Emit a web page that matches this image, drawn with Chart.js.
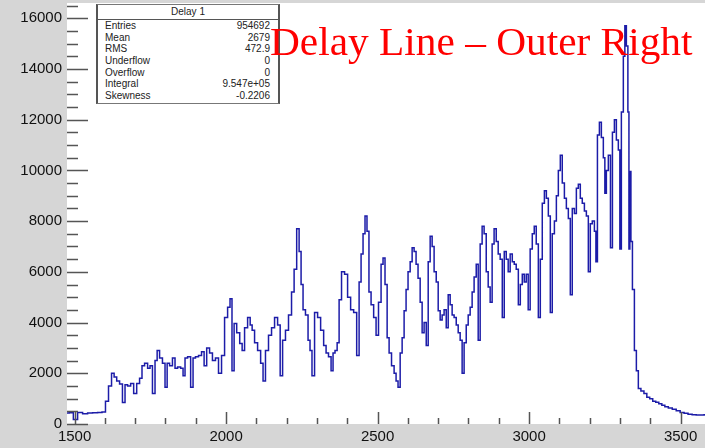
<!DOCTYPE html>
<html lang="en">
<head>
<meta charset="UTF-8">
<title>Delay Line - Outer Right</title>
<script src="https://cdn.jsdelivr.net/npm/chart.js"></script>
<style>
  body { margin: 0; background: #d6d6d6; overflow: hidden; width: 705px; height: 448px; position: relative; }
  #wrap { position: absolute; left: 0; top: 0; width: 720px; height: 448px; }
  #title { position: absolute; left: 270px; top: 22px; font-family: "Liberation Serif", serif; font-size: 39px; line-height: 1;
           color: #ff0000; white-space: nowrap; transform: scaleX(1.06); transform-origin: left top; }
  #stats { position: absolute; left: 96px; top: 4px; width: 180px; height: 98px; background: #fff;
           border: 1px solid #777; border-left: 2px solid #555; border-right: 2px solid #555;
           font-family: "Liberation Sans", sans-serif; font-size: 10px; color: #222; }
  #stats .head { text-align: center; height: 14px; line-height: 14px; border-bottom: 1px solid #555; }
  #stats .row { display: flex; justify-content: space-between; padding: 0 8px 0 7px; height: 11.7px; line-height: 11.7px; }
</style>
</head>
<body>
<div id="wrap"><canvas id="myChart" width="720" height="448"></canvas></div>
<div id="stats"></div>
<div id="title">Delay Line – Outer Right</div>

<script>
// bin centres and counts
const binX = [1475,1490,1502,1518,1535,1551,1568,1584,1597,1607,1617,1627,1634,1644,1653,1663,1670,1680,1690,1700,
  1710,1719,1726,1736,1746,1752,1762,1769,1776,1785,1795,1802,1809,1818,1828,1835,1845,1855,1861,1868,
  1878,1888,1894,1904,1914,1924,1931,1941,1950,1960,1970,1980,1990,2000,2010,2016,2023,2030,2040,2050,
  2056,2066,2076,2083,2089,2099,2109,2119,2125,2135,2145,2155,2165,2175,2182,2191,2201,2211,2221,2228,
  2238,2244,2251,2257,2267,2274,2280,2287,2297,2307,2317,2327,2333,2343,2350,2356,2363,2370,2376,2386,
  2396,2406,2416,2426,2436,2442,2449,2455,2462,2468,2475,2482,2492,2498,2508,2515,2521,2528,2535,2541,
  2551,2558,2564,2571,2578,2584,2591,2597,2604,2611,2617,2624,2630,2637,2644,2650,2657,2664,2670,2677,
  2683,2690,2697,2703,2710,2716,2723,2730,2736,2743,2749,2756,2763,2769,2776,2782,2789,2796,2802,2809,
  2815,2822,2829,2835,2842,2848,2855,2862,2868,2875,2881,2888,2895,2901,2908,2915,2921,2928,2934,2941,
  2948,2954,2961,2968,2974,2981,2987,2994,3000,3007,3014,3020,3027,3034,3040,3047,3054,3060,3067,3073,
  3080,3087,3093,3100,3106,3113,3120,3126,3133,3139,3146,3153,3159,3166,3172,3179,3186,3192,3199,3205,
  3212,3219,3222,3229,3235,3242,3248,3252,3258,3265,3272,3278,3285,3291,3298,3301,3308,3314,3318,3324,
  3328,3331,3334,3338,3344,3351,3357,3364,3374,3384,3393,3403,3413,3423,3433,3443,3453,3466,3479,3492,
  3505,3518,3531,3545,3558,3571,3584,3604,3630];

const counts = [430,440,180,450,400,430,440,450,470,900,1500,2000,1850,1700,1580,850,1550,1500,1600,1200,
  1600,1800,2300,2400,2200,2300,1200,2500,2900,2600,2400,1450,2400,2300,2600,2200,2250,2200,1900,2600,
  2650,1450,2600,2650,2700,2850,2300,3000,2800,2500,2600,2000,2700,4200,4600,4940,2100,3960,3600,3170,
  2900,3800,4200,3900,3700,3200,2900,2400,1700,2900,3500,3800,4200,3900,1900,3300,3700,4300,5200,6100,
  7700,6800,5500,4500,4300,3300,2900,1900,4400,4200,3700,3100,2800,2650,2100,2800,2900,3200,4900,6000,
  5900,5000,4500,4400,2700,5600,6700,7500,8200,7600,5200,4700,4200,3500,4800,6300,6550,5500,3400,2800,
  2300,2000,1700,1450,2800,3400,4470,5300,6000,6400,6950,6800,6300,5750,4800,3600,4000,3100,6400,7400,
  7000,6000,5600,4470,4100,4300,4500,3800,5100,4700,4300,4200,3900,3600,3300,2000,3200,3900,4300,4600,
  5200,5800,6300,3300,7100,7800,7500,6000,5400,4800,7100,7700,7200,6700,6500,4200,6800,6500,6000,6700,
  6400,6300,6100,4700,5500,5900,5600,5900,4500,6900,7500,7800,7100,4200,6500,8700,9200,8900,8200,4400,
  7500,8000,9000,10000,10600,9500,8900,8500,8100,5100,8500,8300,9300,9450,8900,8700,8400,8200,6000,7900,
  8000,7600,6400,11400,11900,11300,10500,9100,10000,10600,6950,11500,12000,11200,10800,6900,12300,14500,15700,14900,
  12300,6900,9960,7200,5300,2900,2100,1400,1300,1200,1050,1000,900,860,800,740,680,630,580,520,
  450,420,380,360,350,350,360,340,330];

const xTickLabels = [1500, 2000, 2500, 3000, 3500];
const yTickLabels = [0, 2000, 4000, 6000, 8000, 10000, 12000, 14000, 16000];

const statNames = ['Entries', 'Mean', 'RMS', 'Underflow', 'Overflow', 'Integral', 'Skewness'];
const statValues = ['954692', '2679', '472.9', '0', '0', '9.547e+05', '-0.2206'];

// stats box
const stats = document.getElementById('stats');
stats.innerHTML = '<div class="head">Delay 1</div>' +
  statNames.map((n, i) => '<div class="row"><span>' + n + '</span><span>' + statValues[i] + '</span></div>').join('');

// white frame + ROOT style inward ticks
const frameTicks = {
  id: 'frameTicks',
  beforeDraw(chart) {
    const a = chart.chartArea, c = chart.ctx;
    c.save();
    c.fillStyle = '#d6d6d6';
    c.fillRect(0, 0, chart.width, chart.height);
    c.fillStyle = '#fff';
    c.fillRect(a.left, a.top, a.right - a.left, a.bottom - a.top);
    c.restore();
  },
  afterDatasetsDraw(chart) {
    const a = chart.chartArea, c = chart.ctx;
    const xs = chart.scales.x, ys = chart.scales.y;
    c.save();
    c.strokeStyle = '#555';
    c.lineWidth = 1.5;
    c.beginPath();
    for (let v = 0; v <= ys.max; v += 500) {
      const y = Math.round(ys.getPixelForValue(v)) + 0.5;
      const len = v % 2000 === 0 ? 21 : 11;
      c.moveTo(a.left, y); c.lineTo(a.left + len, y);
    }
    for (let v = 1500; v <= xs.max; v += 100) {
      const x = Math.round(xs.getPixelForValue(v)) + 0.5;
      const len = v % 500 === 0 ? 12 : 6;
      c.moveTo(x, a.bottom); c.lineTo(x, a.bottom - len);
    }
    c.stroke();
    c.restore();
  }
};

const ctx = document.getElementById('myChart').getContext('2d');
const myChart = new Chart(ctx, {
  type: 'line',
  data: {
    datasets: [{
      label: 'Delay 1',
      data: binX.map((x, i) => ({ x: x, y: counts[i] })),
      borderColor: '#1c1ca8',
      borderWidth: 1.5,
      stepped: 'middle',
      pointRadius: 0,
      fill: false
    }]
  },
  options: {
    responsive: false,
    animation: false,
    devicePixelRatio: 1,
    layout: { padding: { top: 3, left: 0, right: 0, bottom: 0 } },
    plugins: { legend: { display: false }, tooltip: { enabled: false } },
    scales: {
      x: {
        type: 'linear',
        min: 1475,
        max: 3630,
        grid: { display: false, drawTicks: false },
        border: { display: false },
        afterBuildTicks: s => { s.ticks = xTickLabels.map(v => ({ value: v })); },
        afterFit: s => { s.height = 24; s.paddingLeft = 0; s.paddingRight = 0; },
        ticks: { color: '#111', padding: 4, maxRotation: 0, autoSkip: false,
                 callback: v => String(v),
                 font: { family: 'Liberation Sans', size: 15 } }
      },
      y: {
        min: 0,
        max: 16600,
        grid: { display: false, drawTicks: false },
        border: { display: false },
        afterBuildTicks: s => { s.ticks = yTickLabels.map(v => ({ value: v })); },
        afterFit: s => { s.width = 67; s.paddingTop = 0; s.paddingBottom = 0; },
        ticks: { color: '#111', padding: 5, autoSkip: false,
                 callback: v => String(v),
                 font: { family: 'Liberation Sans', size: 15 } }
      }
    }
  },
  plugins: [frameTicks]
});
</script>
</body>
</html>
